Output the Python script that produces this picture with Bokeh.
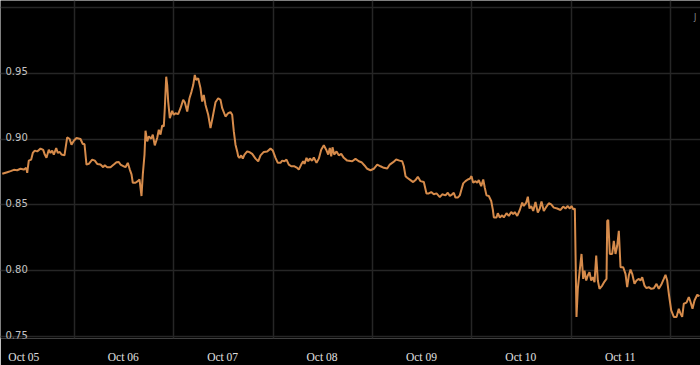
from bokeh.plotting import figure
from bokeh.models import Range1d, FixedTicker
from bokeh.core.properties import value
from bokeh.embed import file_html
from bokeh.resources import INLINE

# hours since Oct 05 00:00
hours = [-1.5, -0.3, 0.5, 1.3, 2.1, 2.9, 3.69, 4.27, 4.52, 4.9, 5.48, 5.87, 6.35, 6.93, 7.73, 8.38, 8.76, 9.17,
         9.73, 10.14, 10.55, 10.94, 11.52, 11.9, 12.39, 12.8, 13.52, 14.17, 14.73, 15.21, 15.77, 16.42, 17.38,
         17.94, 18.35, 18.83, 19.39, 20.21, 20.84, 21.42, 22.21, 22.87, 23.25, 23.83, 24.63, 25.42, 26.08, 26.63,
         27.04, 27.84, 28.25, 28.8, 29.29, 29.7, 30.01, 30.66, 31.22, 31.63, 31.87, 32.11, 32.43, 32.84, 33.08,
         33.49, 33.88, 34.45, 34.84, 35.32, 35.9, 36.29, 36.7, 37.11, 37.5, 37.74, 38.08, 38.32, 38.56, 38.95,
         39.52, 39.91, 40.32, 40.97, 41.53, 42.18, 42.57, 43.15, 43.7, 44.19, 44.6, 44.98, 45.32, 45.8, 46.36,
         46.77, 47.15, 47.57, 48.22, 48.77, 49.33, 49.98, 50.63, 51.19, 51.6, 52.39, 53.05, 53.6, 54.01, 54.4,
         54.81, 55.22, 55.46, 55.77, 56.18, 56.57, 56.98, 57.63, 58.26, 58.84, 59.64, 60.29, 60.85, 61.64, 62.46,
         63.26, 63.82, 64.47, 65.02, 65.67, 66.08, 66.64, 67.12, 67.68, 68.26, 69.05, 69.71, 70.09, 70.67, 71.15,
         71.47, 71.95, 72.36, 72.75, 73.33, 73.72, 74.37, 74.92, 75.5, 76.13, 76.71, 77.19, 77.58, 77.92, 78.23,
         78.64, 79.2, 79.75, 80.33, 80.96, 81.78, 82.99, 83.78, 84.58, 85.23, 85.96, 86.61, 87.4, 88.2, 89.02,
         89.82, 90.62, 91.44, 92.06, 92.89, 93.61, 94.41, 95.06, 95.45, 95.86, 96.27, 97.06, 97.71, 98.27, 98.83,
         99.48, 100.28, 100.92, 101.48, 102.06, 102.69, 103.34, 104.14, 104.72, 105.51, 106.07, 106.55, 107.13,
         107.52, 107.92, 108.48, 108.97, 109.38, 109.79, 110.34, 110.9, 111.38, 111.79, 112.2, 112.76, 113.17,
         113.55, 114.13, 114.62, 115.0, 115.41, 115.97, 116.55, 116.93, 117.18, 117.83, 118.14, 118.63, 119.2,
         119.59, 120.24, 120.8, 121.38, 121.86, 122.24, 122.83, 123.45, 124.03, 124.42, 125.0, 125.39, 125.8,
         126.21, 126.69, 127.24, 127.8, 128.28, 128.69, 129.25, 129.9, 130.46, 131.03, 131.66, 132.48, 133.28,
         133.93, 134.49, 135.04, 135.53, 135.94, 136.35, 136.74, 137.14, 137.46, 137.87, 138.35, 138.76, 139.08,
         139.49, 139.87, 140.28, 140.69, 141.08, 141.49, 141.9, 142.29, 142.69, 143.35, 143.9, 144.39, 144.56,
         144.8, 145.19, 145.76, 146.15, 146.56, 146.97, 147.36, 147.77, 148.42, 148.97, 149.38, 149.77, 150.18,
         150.59, 151.15, 151.63, 152.19, 152.6, 153.01, 153.55, 154.04, 154.6, 155.18, 155.81, 156.46, 157.01,
         157.59, 158.22, 158.63, 159.04, 159.43, 160.01, 160.64, 161.29, 161.84, 162.25, 162.66, 163.05, 163.7,
         164.26, 164.67, 165.15, 165.63, 166.29, 166.84]

rate = [0.8737, 0.8749, 0.8757, 0.8767, 0.8764, 0.8775, 0.8769, 0.8782, 0.8744, 0.8837, 0.8845, 0.8895, 0.8913,
        0.8907, 0.8928, 0.8918, 0.8883, 0.8858, 0.892, 0.8895, 0.8913, 0.8883, 0.8933, 0.8895, 0.8903, 0.8883,
        0.8877, 0.9013, 0.9003, 0.8958, 0.8988, 0.9009, 0.9001, 0.8963, 0.8963, 0.8807, 0.8812, 0.8845, 0.8837,
        0.8812, 0.8807, 0.8787, 0.8802, 0.8787, 0.8787, 0.8807, 0.8825, 0.8827, 0.8807, 0.8794, 0.8787, 0.882,
        0.8769, 0.8732, 0.8669, 0.8669, 0.8681, 0.8694, 0.8631, 0.8568, 0.8732, 0.8883, 0.9064, 0.8983, 0.9021,
        0.9003, 0.9034, 0.8953, 0.9009, 0.9071, 0.9034, 0.9104, 0.9096, 0.9235, 0.9474, 0.9411, 0.9285, 0.916,
        0.9215, 0.9185, 0.9197, 0.919, 0.9235, 0.9298, 0.928, 0.921, 0.9311, 0.9361, 0.9411, 0.9487, 0.9449,
        0.9462, 0.9386, 0.9285, 0.9336, 0.926, 0.9185, 0.9084, 0.9172, 0.928, 0.9311, 0.9298, 0.9235, 0.9172,
        0.9197, 0.9205, 0.9185, 0.9059, 0.8958, 0.8907, 0.887, 0.8858, 0.8877, 0.8852, 0.8883, 0.8907, 0.89,
        0.8888, 0.8852, 0.8832, 0.8877, 0.8903, 0.8907, 0.8928, 0.8913, 0.8858, 0.882, 0.882, 0.8837, 0.8832,
        0.8845, 0.8807, 0.8794, 0.8794, 0.8782, 0.8769, 0.8807, 0.8832, 0.8812, 0.8858, 0.8832, 0.8852, 0.8837,
        0.8862, 0.882, 0.8852, 0.892, 0.8953, 0.892, 0.8883, 0.8933, 0.887, 0.8938, 0.8883, 0.8907, 0.8877,
        0.8888, 0.8858, 0.8837, 0.8832, 0.885, 0.8832, 0.8825, 0.88, 0.8775, 0.8764, 0.8775, 0.8807, 0.8794,
        0.8782, 0.8777, 0.8807, 0.8825, 0.8845, 0.8837, 0.8832, 0.8794, 0.8719, 0.8707, 0.8689, 0.8674, 0.8689,
        0.8714, 0.8681, 0.8674, 0.8588, 0.8588, 0.8598, 0.8581, 0.8588, 0.856, 0.8581, 0.8573, 0.8593, 0.8568,
        0.8581, 0.8593, 0.8556, 0.8556, 0.8573, 0.862, 0.8664, 0.8681, 0.8694, 0.8699, 0.8719, 0.8669, 0.8681,
        0.8669, 0.8689, 0.8643, 0.8694, 0.8631, 0.8573, 0.8568, 0.853, 0.8467, 0.8405, 0.8405, 0.8437, 0.8405,
        0.8422, 0.8405, 0.8437, 0.8417, 0.8447, 0.843, 0.8447, 0.8417, 0.8462, 0.8518, 0.8492, 0.8518, 0.8563,
        0.8473, 0.8492, 0.8455, 0.8523, 0.8442, 0.8473, 0.8526, 0.8455, 0.8488, 0.8513, 0.8505, 0.848, 0.8473,
        0.8462, 0.8488, 0.8473, 0.8492, 0.8473, 0.8492, 0.8467, 0.8473, 0.765, 0.7863, 0.7989, 0.8128, 0.7939,
        0.8002, 0.7926, 0.7964, 0.7989, 0.7926, 0.7952, 0.7914, 0.8115, 0.7926, 0.7863, 0.7888, 0.7918, 0.7939,
        0.8379, 0.8387, 0.8128, 0.8128, 0.8228, 0.8128, 0.819, 0.8304, 0.8027, 0.8027, 0.7977, 0.7876, 0.7964,
        0.8009, 0.7977, 0.7901, 0.7926, 0.7939, 0.7926, 0.7952, 0.7888, 0.7868, 0.7876, 0.7863, 0.7868, 0.7901,
        0.7863, 0.7894, 0.7939, 0.7969, 0.7926, 0.7826, 0.77, 0.765, 0.765, 0.7712, 0.7675, 0.765, 0.775,
        0.7758, 0.7801, 0.7763, 0.7712, 0.7775, 0.7818, 0.7808]

day_labels = ["Oct 05", "Oct 06", "Oct 07", "Oct 08", "Oct 09", "Oct 10", "Oct 11"]
y_ticks = [0.75, 0.80, 0.85, 0.90, 0.95, 1.00]
y_labels = ["0.75", "0.80", "0.85", "0.90", "0.95"]

p = figure(width=700, height=365, output_backend="svg", toolbar_location=None,
           x_range=Range1d(-1.93, 167.08), y_range=Range1d(0.7486, 1.0053),
           min_border_left=0, min_border_right=0, min_border_top=0, min_border_bottom=25,
           background_fill_color="black", border_fill_color="black", outline_line_color=None)

p.yaxis.visible = False
label_ticks = [d * 24 + 3.7 for d in range(len(day_labels))]
p.xaxis.ticker = FixedTicker(ticks=label_ticks)
p.xaxis.major_label_overrides = {t: lab for t, lab in zip(label_ticks, day_labels)}
p.xaxis.axis_line_color = None
p.xaxis.major_tick_line_color = None
p.xaxis.minor_tick_line_color = None
p.xaxis.major_label_standoff = 6
p.xaxis.major_label_text_font = "Liberation Serif"
p.xaxis.major_label_text_font_size = "11.5px"
p.xaxis.major_label_text_color = "#e0e0e0"

p.xgrid.ticker = FixedTicker(ticks=[d * 24 + 15.9 for d in range(7)])
p.ygrid.ticker = FixedTicker(ticks=y_ticks)
p.xgrid.grid_line_color = "#262626"
p.ygrid.grid_line_color = "#262626"
p.xgrid.grid_line_width = 1.5
p.ygrid.grid_line_width = 1.5

p.line(hours, rate, line_color="#d68b4b", line_width=2)

p.text(x=[-0.72] * len(y_labels), y=[float(v) for v in y_labels], text=y_labels,
       text_font=value("DejaVu Sans"), text_font_size="10px", text_color="#c4c4c4",
       text_baseline="alphabetic", text_align="left", y_offset=-2)

p.text(x=[165.5], y=[0.9925], text=["J"], text_font=value("DejaVu Sans"), text_font_size="8px",
       text_color="#888888", text_baseline="middle", text_align="left")

open("out.html", "w").write(file_html(p, INLINE))
